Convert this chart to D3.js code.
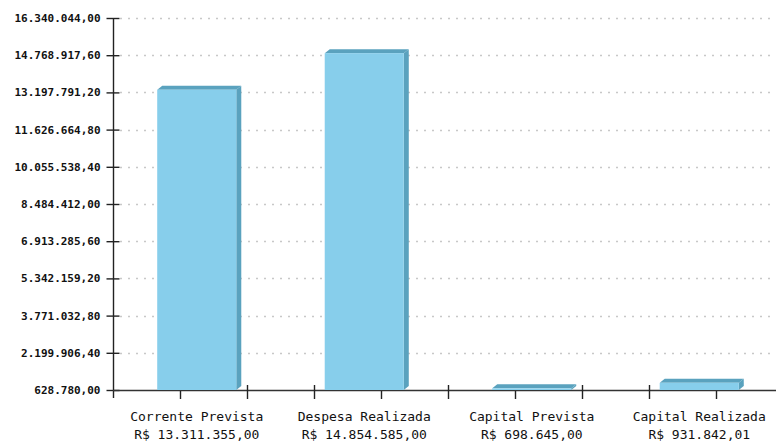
<!DOCTYPE html>
<html>
<head>
<meta charset="utf-8">
<script src="https://cdn.jsdelivr.net/npm/d3@7"></script>
<style>
  html, body { margin: 0; padding: 0; background: #ffffff; }
  svg { display: block; }
</style>
</head>
<body>
<svg id="chart" width="776" height="444"></svg>
<script>
// ---- data ----
const categories = ["Corrente Prevista", "Despesa Realizada", "Capital Prevista", "Capital Realizada"];
const values = [13311355.00, 14854585.00, 698645.00, 931842.01];
const yTicks = [628780.00, 2199906.40, 3771032.80, 5342159.20, 6913285.60, 8484412.00,
                10055538.40, 11626664.80, 13197791.20, 14768917.60, 16340044.00];
const yDomain = [628780.00, 16340044.00];
// x-axis minor/major tick marks as they appear in the original
const xTickKinds = ["long", "short", "long", "long", "short", "long", "short", "long", "long", "short", "long"];

// ---- layout ----
const W = 776, H = 444;
const plotLeft = 113, plotRight = 783, plotTop = 18, plotBottom = 390;
const depthX = 5, depthY = 4;

const loc = d3.formatLocale({ decimal: ",", thousands: ".", grouping: [3], currency: ["R$ ", ""] });
const fmtNum = loc.format(",.2f");
const fmtCur = v => "R$ " + fmtNum(v);

const svg = d3.select("#chart");

const y = d3.scaleLinear().domain(yDomain).range([plotBottom, plotTop]);
const x = d3.scaleBand().domain(categories).range([plotLeft, plotRight])
  .paddingInner(0.528).paddingOuter(0.264);
const xt = d3.scaleLinear().domain([0, xTickKinds.length - 1]).range([plotLeft, plotRight]);

// grid lines (dotted)
svg.append("g").selectAll("line")
  .data(yTicks.slice(1))
  .join("line")
  .attr("x1", plotLeft + 7).attr("x2", W)
  .attr("y1", d => Math.round(y(d)) + 0.5).attr("y2", d => Math.round(y(d)) + 0.5)
  .attr("stroke", "#c8c8c8").attr("stroke-width", 1.3)
  .attr("stroke-dasharray", "2,6");

// y axis
const yAxis = d3.axisLeft(y).tickValues(yTicks).tickSize(0).tickFormat(fmtNum);
const gy = svg.append("g").attr("transform", `translate(${plotLeft + 0.5},0)`).call(yAxis);
gy.select(".domain").remove();
gy.selectAll("text")
  .attr("x", -13)
  .attr("font-family", "DejaVu Sans Mono")
  .attr("font-weight", "bold")
  .attr("font-size", "11px")
  .attr("fill", "#111");
gy.selectAll(".tick").append("line")
  .attr("x1", -7).attr("x2", 6).attr("y1", 0).attr("y2", 0)
  .attr("stroke", "#222").attr("stroke-width", 1.4);
svg.append("line")
  .attr("x1", plotLeft + 0.5).attr("x2", plotLeft + 0.5)
  .attr("y1", plotTop).attr("y2", plotBottom + 8)
  .attr("stroke", "#222").attr("stroke-width", 1.4);

// x axis line
svg.append("line")
  .attr("x1", plotLeft).attr("x2", W)
  .attr("y1", plotBottom + 0.5).attr("y2", plotBottom + 0.5)
  .attr("stroke", "#333").attr("stroke-width", 1.4);

// x tick marks
svg.append("g").selectAll("line")
  .data(xTickKinds.map((k, i) => ({ k, i })).filter(d => d.i > 0))
  .join("line")
  .attr("x1", d => Math.round(xt(d.i)) + 0.5).attr("x2", d => Math.round(xt(d.i)) + 0.5)
  .attr("y1", d => d.k === "long" ? plotBottom - 5 : plotBottom + 1)
  .attr("y2", plotBottom + 9)
  .attr("stroke", "#222").attr("stroke-width", 1.4);

// bars (3D)
const bars = svg.append("g").selectAll("g")
  .data(categories.map((c, i) => ({ c, v: values[i] })))
  .join("g");

bars.append("path") // top face
  .attr("d", d => {
    const x0 = x(d.c), x1 = x0 + x.bandwidth(), yt = y(d.v);
    return `M${x0},${yt} L${x0 + depthX},${yt - depthY} L${x1 + depthX},${yt - depthY} L${x1},${yt} Z`;
  })
  .attr("fill", "#5aa2be");
bars.append("path") // side face
  .attr("d", d => {
    const x1 = x(d.c) + x.bandwidth(), yt = y(d.v), yb = y(yDomain[0]);
    return `M${x1},${yt} L${x1 + depthX},${yt - depthY} L${x1 + depthX},${yb - depthY} L${x1},${yb} Z`;
  })
  .attr("fill", "#5aa2be");
bars.append("rect") // front face
  .attr("x", d => x(d.c))
  .attr("y", d => y(d.v))
  .attr("width", x.bandwidth())
  .attr("height", d => y(yDomain[0]) - y(d.v))
  .attr("fill", "#87ceeb");

// category labels
const lab = svg.append("g").selectAll("g")
  .data(categories.map((c, i) => ({ c, v: values[i] })))
  .join("g")
  .attr("transform", d => `translate(${x(d.c) + x.bandwidth() / 2},0)`);
lab.append("text")
  .attr("y", 421)
  .attr("text-anchor", "middle")
  .attr("font-family", "DejaVu Sans Mono")
  .attr("font-size", "13px")
  .attr("fill", "#111")
  .text(d => d.c);
lab.append("text")
  .attr("y", 439)
  .attr("text-anchor", "middle")
  .attr("font-family", "DejaVu Sans Mono")
  .attr("font-size", "13px")
  .attr("fill", "#111")
  .text(d => fmtCur(d.v));
</script>
</body>
</html>
